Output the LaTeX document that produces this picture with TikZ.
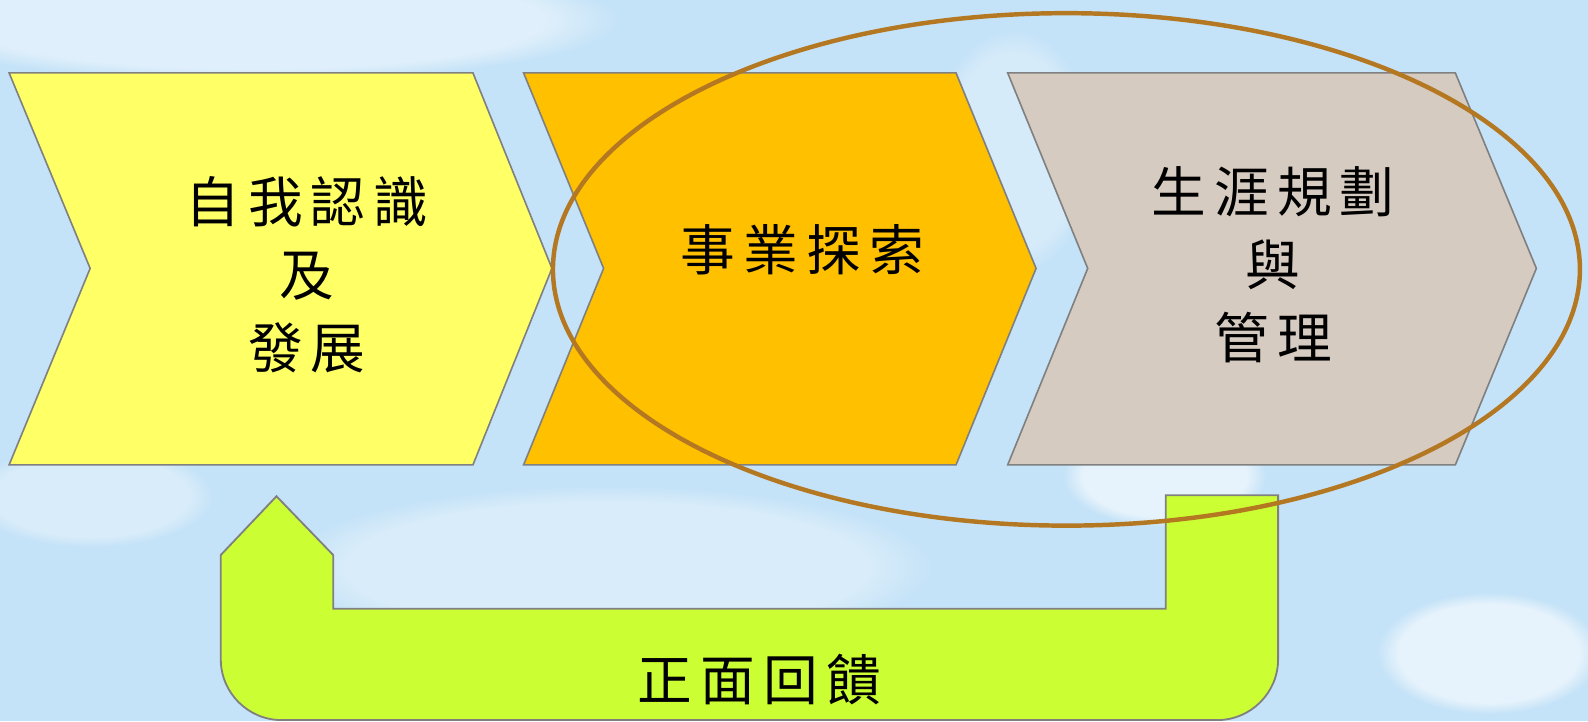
\documentclass[tikz,border=0pt]{standalone}
\usepackage{fontspec}
\newfontfamily\cjk[LetterSpace=15]{Noto Sans CJK TC}
\usetikzlibrary{fadings}
\definecolor{bgblue}{RGB}{197,227,248}
\definecolor{chevA}{RGB}{255,255,102}
\definecolor{chevB}{RGB}{255,192,0}
\definecolor{chevC}{RGB}{214,203,192}
\definecolor{loopgreen}{RGB}{204,255,51}
\definecolor{ringbrown}{RGB}{180,120,34}
\definecolor{edgegray}{RGB}{128,128,128}
\tikzset{
  chevron/.style={draw=edgegray, line width=0.8pt, line join=miter},
  loopshape/.style={draw=edgegray, line width=0.9pt, fill=loopgreen},
  ring/.style={draw=ringbrown, line width=2.2pt},
  label/.style={font=\cjk\fontsize{27pt}{36pt}\selectfont, align=center, text=black, inner sep=0pt},
  cloud/.style={white, path fading=circle with fuzzy edge 20 percent}
}
\begin{document}
\begin{tikzpicture}[x={(0.5pt,0)}, y={(0,-0.5pt)}]
\useasboundingbox (0,0) rectangle (1568,712);
\fill[bgblue] (0,0) rectangle (1568,712);
% soft clouds
\fill[cloud, opacity=0.45] (250,20) ellipse [x radius=180pt, y radius=30pt];
\fill[cloud, opacity=0.35] (90,490) ellipse [x radius=60pt, y radius=25pt];
\fill[cloud, opacity=0.35] (600,560) ellipse [x radius=160pt, y radius=40pt];
\fill[cloud, opacity=0.6] (1150,470) ellipse [x radius=50pt, y radius=25pt];
\fill[cloud, opacity=0.6] (1470,645) ellipse [x radius=55pt, y radius=30pt];
\fill[cloud, opacity=0.3] (1000,150) ellipse [x radius=40pt, y radius=60pt];
% chevrons
\draw[chevron, fill=chevA] (9,72) coordinate (a1) -- (467,72) -- (545,265) coordinate (atip) -- (467,459) -- (9,459) -- (89,265) -- cycle;
\draw[chevron, fill=chevB] (517,72) coordinate (b1) -- (944,72) -- (1023,265) coordinate (btip) -- (944,459) -- (517,459) -- (596,265) -- cycle;
\draw[chevron, fill=chevC] (995,72) coordinate (c1) -- (1437,72) -- (1517,265) coordinate (ctip) -- (1437,459) -- (995,459) -- (1074,265) -- cycle;
% feedback loop arrow
\draw[loopshape] (273,490) coordinate (looptip) -- (329,548) -- (329,601) -- (1151,601) -- (1151,489) -- (1262,489) -- (1262,651)
  .. controls (1262,684) and (1235,711) .. (1202,711) -- (278,711)
  .. controls (245,711) and (218,684) .. (218,651) -- (218,548) -- cycle;
% ellipse
\draw[ring] (1053,266) ellipse [x radius=253.5pt, y radius=126.5pt];
% labels
\node[label] (self) at (303,271) {自我認識\\及\\發展};
\node[label] (explore) at (792,247) {事業探索};
\node[label] (plan) at (1257,261) {生涯規劃\\與\\管理};
\node[label] (feedback) at (750,671) {正面回饋};
\end{tikzpicture}
\end{document}
